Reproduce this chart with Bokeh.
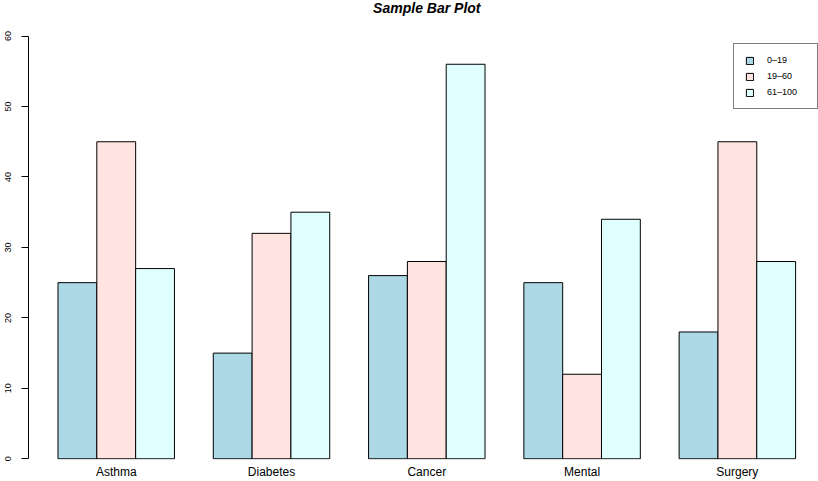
from bokeh.plotting import figure
from bokeh.models import (Range1d, LinearAxis, FixedTicker, Legend, LegendItem,
                          ColumnDataSource, Label)
from bokeh.embed import file_html
from bokeh.resources import INLINE

# ---- data ----
categories = ["Asthma", "Diabetes", "Cancer", "Mental", "Surgery"]
series_names = ["0–19", "19–60", "61–100"]
age_0_19 = [25, 15, 26, 25, 18]
age_19_60 = [45, 32, 28, 12, 45]
age_61_100 = [27, 35, 56, 34, 28]
series_values = [age_0_19, age_19_60, age_61_100]
colors = ["#ADD8E6", "#FFE4E1", "#E0FFFF"]
y_ticks = [0, 10, 20, 30, 40, 50, 60]
title_text = "Sample Bar Plot"

FONT = "Liberation Sans"
n_series = len(series_names)
group_step = n_series + 1  # one empty bar-width between groups (R barplot beside=TRUE)
Y_TOP = 65.05  # frame extends above the axis to hold the title

p = figure(width=818, height=481,
           x_range=Range1d(0.24, 20.59), y_range=Range1d(-0.1, Y_TOP),
           output_backend="svg", toolbar_location=None,
           x_axis_location=None, y_axis_location=None,
           min_border_left=28, min_border_right=0,
           min_border_top=0, min_border_bottom=20)
p.outline_line_color = None
p.xgrid.visible = False
p.ygrid.visible = False
p.background_fill_color = "white"
p.border_fill_color = "white"

# y axis
yaxis = LinearAxis(ticker=FixedTicker(ticks=y_ticks), bounds=(0, 60),
                   major_tick_out=7, major_tick_in=0,
                   minor_tick_out=0, minor_tick_in=0,
                   major_label_orientation="vertical",
                   major_label_text_font_size="9px",
                   major_label_text_font=FONT,
                   major_label_text_color="black",
                   major_label_standoff=10,
                   axis_line_color="black", axis_line_width=1,
                   major_tick_line_color="black")
p.add_layout(yaxis, "left")

# x axis (category names under group centres)
group_centers = [1 + group_step * g + n_series / 2 for g in range(len(categories))]
xaxis = LinearAxis(ticker=FixedTicker(ticks=group_centers),
                   major_label_overrides={c: name for c, name in zip(group_centers, categories)},
                   axis_line_color=None, major_tick_line_color=None,
                   minor_tick_line_color=None,
                   major_tick_out=0, major_tick_in=0,
                   minor_tick_out=0, minor_tick_in=0,
                   major_label_text_font_size="12px",
                   major_label_text_font=FONT,
                   major_label_text_color="black",
                   major_label_standoff=5)
p.add_layout(xaxis, "below")

# bars
renderers = []
for s, vals in enumerate(series_values):
    xs = [1 + group_step * g + s + 0.5 for g in range(len(categories))]
    src = ColumnDataSource(dict(x=xs, top=vals, cat=categories))
    r = p.vbar(x="x", top="top", bottom=0, width=1, source=src,
               fill_color=colors[s], line_color="black", line_width=1)
    renderers.append(r)

legend = Legend(items=[LegendItem(label=n, renderers=[r]) for n, r in zip(series_names, renderers)],
                location=(705, 350), orientation="vertical",
                border_line_color="black", border_line_width=1,
                background_fill_color="white", background_fill_alpha=1,
                padding=11, spacing=6, margin=0,
                glyph_width=9, glyph_height=9,
                label_height=9, label_width=39, label_standoff=13,
                label_text_font_size="9px", label_text_font=FONT,
                label_text_color="black")
p.add_layout(legend)

title = Label(x=(p.x_range.start + 20.76) / 2, y=Y_TOP, y_offset=1,
              text=title_text, text_align="center", text_baseline="top",
              text_font=FONT, text_font_size="14px", text_font_style="bold italic",
              text_color="black")
p.add_layout(title)

open("out.html", "w").write(file_html(p, INLINE))
